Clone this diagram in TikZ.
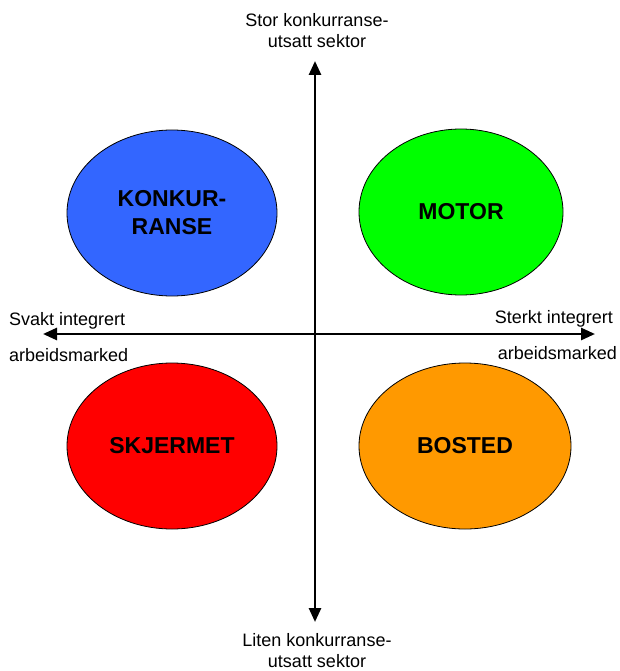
\documentclass[tikz,border=0pt]{standalone}
\usepackage{fontspec}
\setmainfont{Liberation Sans}
\usetikzlibrary{shapes.geometric,arrows.meta}

\definecolor{konkblue}{RGB}{51,102,255}
\definecolor{motorgreen}{RGB}{0,255,0}
\definecolor{skjermred}{RGB}{255,0,0}
\definecolor{bostorange}{RGB}{255,153,0}

\begin{document}
\begin{tikzpicture}[x=1pt,y=-1pt,
    sector/.style={ellipse,draw=black,line width=0.8pt,inner sep=0pt,
        minimum height=166pt,align=center,
        font=\fontsize{23}{28}\selectfont\bfseries},
    axislabel/.style={inner sep=0pt,align=center,
        font=\fontsize{18}{21}\selectfont},
    axisline/.style={line width=2.7pt,
        arrows={Triangle[length=14pt,width=12pt]-Triangle[length=14pt,width=12pt]}}]
    \useasboundingbox (0,0) rectangle (620,671);
    % Axis end points
    \coordinate (ytop) at (315,61);
    \coordinate (ybot) at (315,622);
    \coordinate (xleft) at (43,334);
    \coordinate (xright) at (595,334);
    \draw[axisline] (ybot) -- (ytop);
    \draw[axisline] (xleft) -- (xright);
    % Axis labels
    \node[axislabel,anchor=north] (stor) at (317,13) {Stor konkurranse-\\utsatt sektor};
    \node[axislabel,anchor=north] (liten) at (317,633) {Liten konkurranse-\\utsatt sektor};
    \node[axislabel,anchor=base west] (svakt) at (9,325) {Svakt integrert};
    \node[axislabel,anchor=base west] (svaktarb) at (9,361) {arbeidsmarked};
    \node[axislabel,anchor=base east] (sterkt) at (613,323) {Sterkt integrert};
    \node[axislabel,anchor=base east] (sterktarb) at (617,359) {arbeidsmarked};
    % Sectors
    \foreach \nm/\x/\y/\w/\col/\txt in {
        konkurranse/172/213/210/konkblue/{KONKUR-\\RANSE},
        motor/461/212/204/motorgreen/MOTOR,
        skjermet/172/446/210/skjermred/SKJERMET,
        bosted/465/446/212/bostorange/BOSTED} {
        \node[sector,fill=\col,minimum width=\w pt] (\nm) at (\x,\y) {\txt};
    }
\end{tikzpicture}
\end{document}
